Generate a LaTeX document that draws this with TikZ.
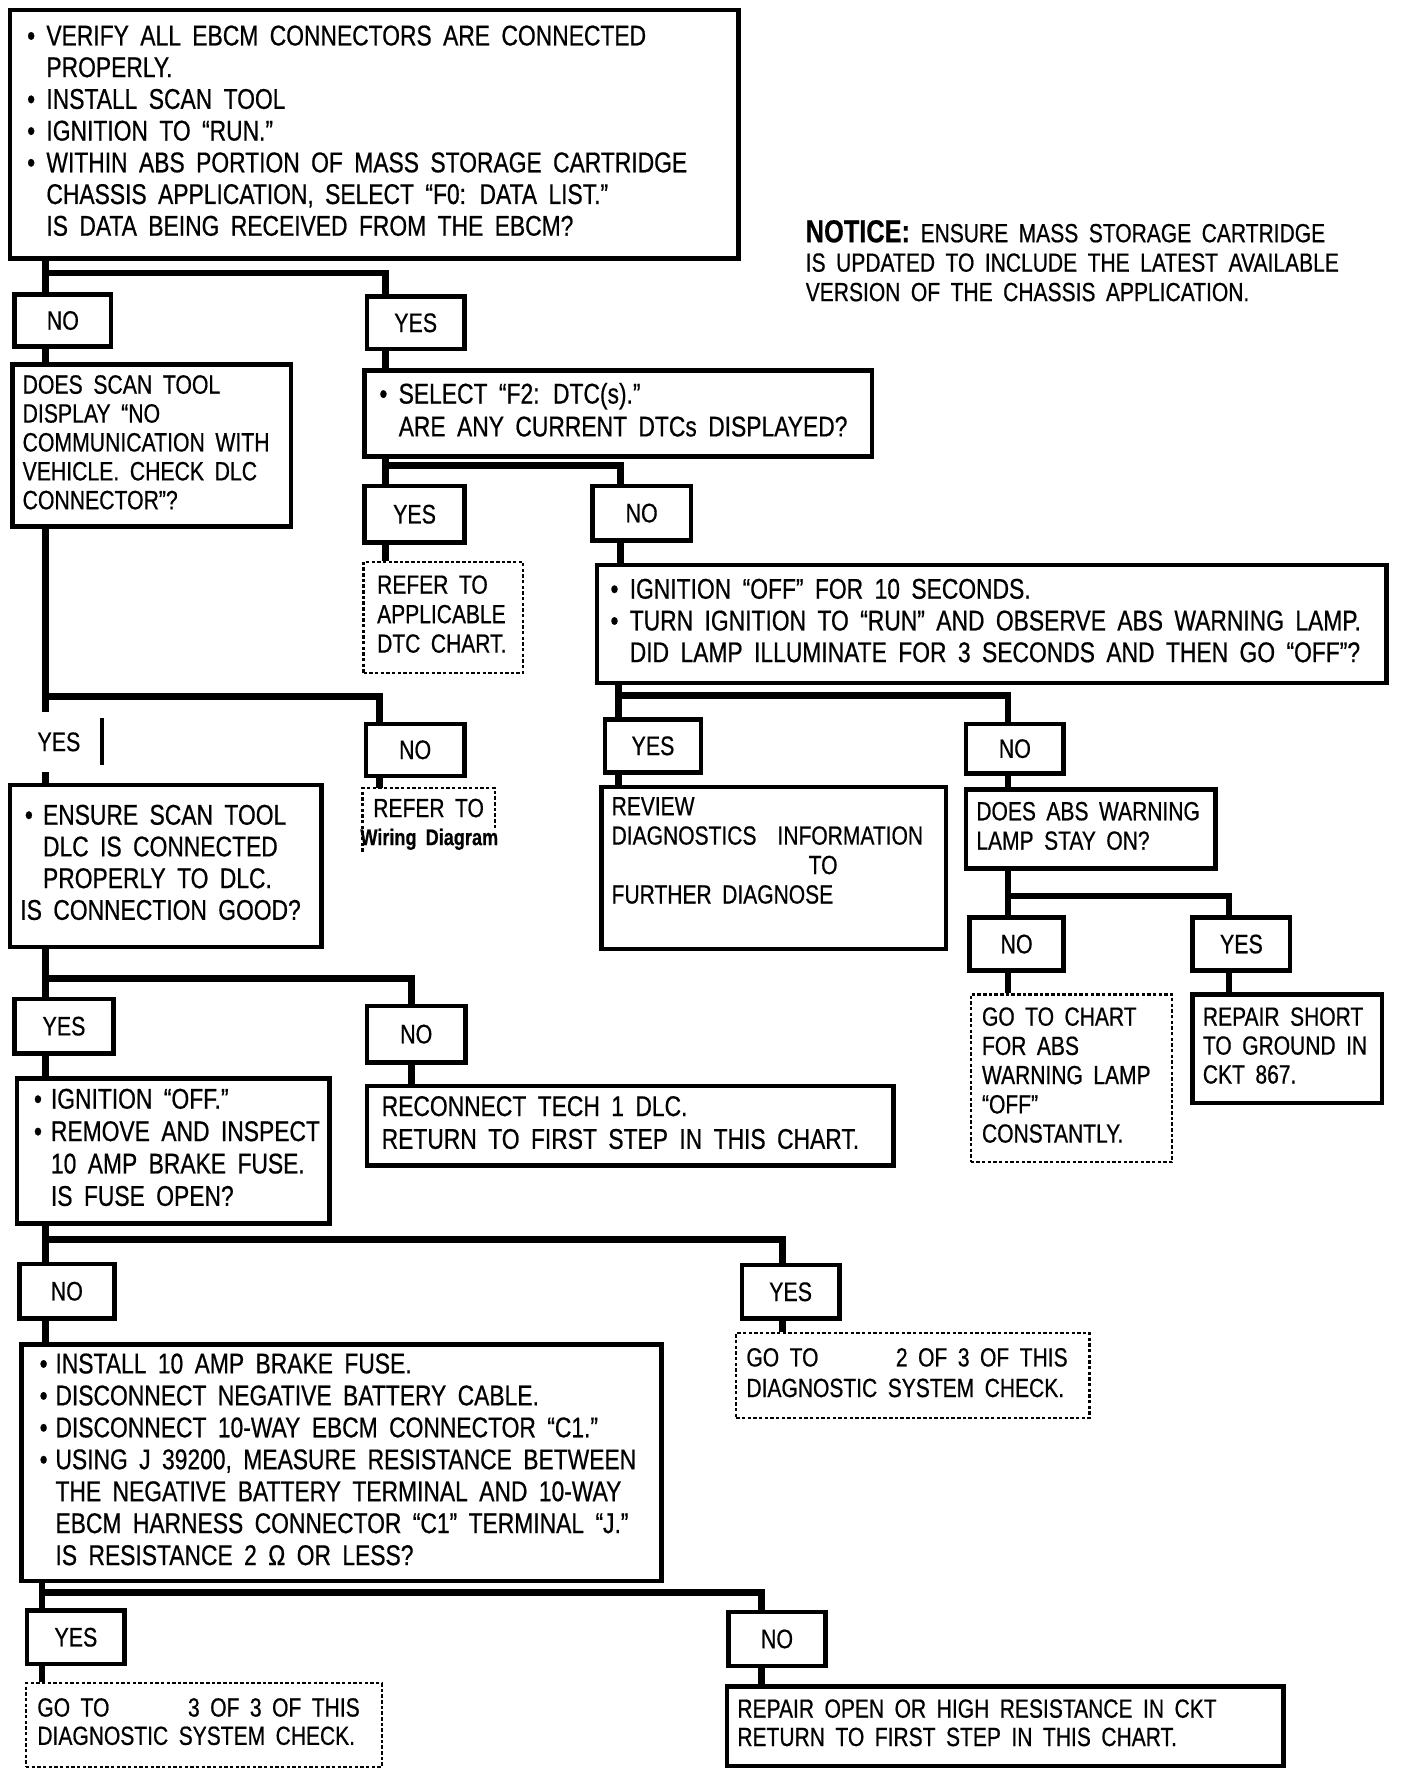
\documentclass[tikz,border=0pt]{standalone}
\usepackage{fontspec}
\setmainfont{Liberation Sans}[FakeStretch=0.8,WordSpace=1.8,FakeBold=0.6]
\newcommand\fs[2]{\fontsize{#1}{#2}\selectfont}
\newcommand\bul[1][8.5pt]{\makebox[#1][l]{\textbullet}}
\newcommand\ind[1][8.5pt]{\hspace*{#1}}
\tikzset{
  box/.style={draw, line width=2pt},
  dbox/.style={draw, line width=1pt, dash pattern=on 1.5pt off 1pt},
  lbl/.style={draw, line width=2pt, inner sep=0pt, font=\fs{11.8}{14}},
  conn/.style={line width=3pt, line join=miter},
}
\newcommand\mybox[8]{%
  \pgfmathsetmacro\bw{(#5-#3)*0.5}%
  \pgfmathsetmacro\bh{(#6-#4)*0.5}%
  \pgfmathsetmacro\pd{#2*0.5}%
  \pgfmathsetmacro\tw{\bw-#2}%
  \node[#7, anchor=north west, inner xsep=\pd pt, inner ysep=0pt, minimum width=\bw pt, minimum height=\bh pt] (#1) at (#3,#4) {\makebox[\tw pt][l]{\begin{tabular}{@{}l@{}}#8\end{tabular}}};}
\newcommand\lab[6]{%
  \pgfmathsetmacro\bw{(#4-#2)*0.5}%
  \pgfmathsetmacro\bh{(#5-#3)*0.5}%
  \node[lbl, anchor=north west, minimum width=\bw pt, minimum height=\bh pt] (#1) at (#2,#3) {#6};}
\begin{document}
\begin{tikzpicture}[x=0.5pt,y=-0.5pt]
\useasboundingbox (0,0) rectangle (1243,1568);

% ---------- boxes ----------
\mybox{b1}{15}{7}{7}{650}{226}{box,font=\fs{12.6}{14}}{%
\bul VERIFY ALL EBCM CONNECTORS ARE CONNECTED\\
\ind PROPERLY.\\
\bul INSTALL SCAN TOOL\\
\bul IGNITION TO “RUN.”\\
\bul WITHIN ABS PORTION OF MASS STORAGE CARTRIDGE\\
\ind CHASSIS APPLICATION, SELECT “F0: DATA LIST.”\\
\ind IS DATA BEING RECEIVED FROM THE EBCM?}

\node[anchor=west, inner sep=0pt, font=\fs{11.6}{13}] (notice) at (711,234)
  {\begin{tabular}{@{}l@{}}{\bfseries\fs{14}{13}NOTICE:} ENSURE MASS STORAGE CARTRIDGE\\
   IS UPDATED TO INCLUDE THE LATEST AVAILABLE\\
   VERSION OF THE CHASSIS APPLICATION.\end{tabular}};

\lab{no1}{11}{258}{96}{304}{NO}
\lab{yes1}{322}{260}{408}{306}{YES}

\mybox{scan}{9}{9}{320}{255}{463}{box,font=\fs{11.7}{12.75}}{%
DOES SCAN TOOL\\DISPLAY “NO\\COMMUNICATION WITH\\VEHICLE. CHECK DLC\\CONNECTOR”?}

\mybox{sel}{13}{320}{325}{768}{401}{box,font=\fs{12.6}{14.5}}{%
\bul SELECT “F2: DTC(s).”\\
\ind ARE ANY CURRENT DTCs DISPLAYED?}

\lab{yes2}{320}{427}{408}{477}{YES}
\lab{no2}{521}{427}{608}{475}{NO}

\mybox{ref1}{12}{320}{495}{461}{593}{dbox,font=\fs{11.6}{13}}{REFER TO\\APPLICABLE\\DTC CHART.}

\mybox{ign}{12}{525}{497}{1222}{601}{box,font=\fs{12.6}{14}}{%
\bul IGNITION “OFF” FOR 10 SECONDS.\\
\bul TURN IGNITION TO “RUN” AND OBSERVE ABS WARNING LAMP.\\
\ind DID LAMP ILLUMINATE FOR 3 SECONDS AND THEN GO “OFF”?}

\lab{yes3}{532}{633}{617}{680}{YES}
\lab{no3}{851}{637}{937}{681}{NO}

\mybox{rev}{9}{529}{693}{833}{836}{box,font=\fs{11.6}{13}}{%
REVIEW\\DIAGNOSTICS\ \ INFORMATION\\\hspace*{87pt}TO\\FURTHER DIAGNOSE\\ \mbox{}}

\mybox{abs}{9}{851}{695}{1071}{765}{box,font=\fs{11.6}{13}}{DOES ABS WARNING\\LAMP STAY ON?}

\lab{no4}{854}{808}{937}{855}{NO}
\lab{yes4}{1051}{808}{1137}{855}{YES}

\mybox{chart}{10}{856}{877}{1034}{1025}{dbox,font=\fs{11.6}{12.9}}{%
GO TO CHART\\FOR ABS\\WARNING LAMP\\“OFF”\\CONSTANTLY.}

\mybox{short}{9}{1051}{876}{1218}{972}{box,font=\fs{11.6}{12.75}}{%
REPAIR SHORT\\TO GROUND IN\\CKT 867.}

% YES (partial) and NO -> wiring
\node[font=\fs{11.8}{14}, inner sep=0pt, minimum height=26pt, minimum width=30pt] (yesB) at (52,655) {YES};
\draw[line width=1.5pt] (90,634) -- (90,675);
\lab{nw}{321}{637}{408}{683}{NO}
\node[anchor=north west, inner sep=0pt, minimum width=58pt, minimum height=17pt, font=\fs{11.6}{13}] (ref2) at (320,696) {REFER TO};
\draw[line width=1pt, dash pattern=on 1.5pt off 1pt] (320,752) -- (ref2.north west) -- (ref2.north east) -- (ref2.south east);
\node[font=\bfseries\fs{10}{12}, inner sep=0pt] (wd) at (379,741) {Wiring Diagram};

\mybox{ens}{9}{7}{691}{282}{834}{box,font=\fs{12.6}{14}}{%
\hspace*{2pt}\bul[8pt]ENSURE SCAN TOOL\\
\ind[10pt]DLC IS CONNECTED\\
\ind[10pt]PROPERLY TO DLC.\\
IS CONNECTION GOOD?}

\lab{yes5}{11}{880}{98}{928}{YES}
\lab{no5}{322}{886}{409}{936}{NO}

\mybox{ign2}{15}{13}{950}{289}{1078}{box,font=\fs{12.6}{14.3}}{%
\bul[7.5pt]IGNITION “OFF.”\\
\bul[7.5pt]REMOVE AND INSPECT\\
\ind[7.5pt]10 AMP BRAKE FUSE.\\
\ind[7.5pt]IS FUSE OPEN?}

\mybox{recon}{13}{322}{957}{787}{1027}{box,font=\fs{12.6}{14.5}}{%
RECONNECT TECH 1 DLC.\\RETURN TO FIRST STEP IN THIS CHART.}

\lab{no6}{15}{1114}{99}{1162}{NO}
\lab{yes6}{653}{1115}{739}{1162}{YES}

\mybox{inst}{16}{17}{1185}{582}{1394}{box,font=\fs{12.6}{14.1}}{%
\bul[7pt]INSTALL 10 AMP BRAKE FUSE.\\
\bul[7pt]DISCONNECT NEGATIVE BATTERY CABLE.\\
\bul[7pt]DISCONNECT 10-WAY EBCM CONNECTOR “C1.”\\
\bul[7pt]USING J 39200, MEASURE RESISTANCE BETWEEN\\
\ind[7pt]THE NEGATIVE BATTERY TERMINAL AND 10-WAY\\
\ind[7pt]EBCM HARNESS CONNECTOR “C1” TERMINAL “J.”\\
\ind[7pt]IS RESISTANCE 2 Ω OR LESS?}

\mybox{go2}{9}{649}{1176}{961}{1251}{dbox,font=\fs{11.6}{13.5}}{%
\makebox[66pt][l]{GO TO}2 OF 3 OF THIS\\DIAGNOSTIC SYSTEM CHECK.}

\lab{yes7}{22}{1420}{108}{1467}{YES}
\lab{no7}{641}{1421}{727}{1469}{NO}

\mybox{go3}{10}{22}{1485}{336}{1559}{dbox,font=\fs{11.6}{12.5}}{%
\makebox[66.5pt][l]{GO TO}3 OF 3 OF THIS\\DIAGNOSTIC SYSTEM CHECK.}

\mybox{ropen}{9}{640}{1487}{1131}{1557}{box,font=\fs{11.6}{12.5}}{%
REPAIR OPEN OR HIGH RESISTANCE IN CKT\\RETURN TO FIRST STEP IN THIS CHART.}

% ---------- junctions ----------
\coordinate (j1) at (40,241);   \coordinate (j1r) at (340,241);
\coordinate (j2) at (340,411);  \coordinate (j2r) at (548,411);
\coordinate (j3) at (546,614);  \coordinate (j3r) at (890,614);
\coordinate (j4) at (890,791);  \coordinate (j4r) at (1085,791);
\coordinate (j5) at (40,615);   \coordinate (j5r) at (335,615);
\coordinate (j6) at (40,864);   \coordinate (j6r) at (363,864);
\coordinate (j7) at (40,1094);  \coordinate (j7r) at (691,1094);
\coordinate (j8) at (37,1406);  \coordinate (j8r) at (672,1406);

% ---------- connectors ----------
\draw[conn] (b1.south -| j1) -- (no1.north -| j1);
\draw[conn] (j1) -- (j1r) -- (yes1.north -| j1r);
\draw[conn] (no1.south -| j1) -- (scan.north -| j1);
\draw[conn] (yes1.south -| j1r) -- (sel.north -| j1r);

\draw[conn] (sel.south -| j2) -- (yes2.north -| j2);
\draw[conn] (j2) -- (j2r) -- (no2.north -| j2r);
\draw[conn] (yes2.south -| j2) -- (ref1.north -| j2);
\draw[conn] (no2.south -| j2r) -- (ign.north -| j2r);

\draw[conn] (ign.south -| j3) -- (yes3.north -| j3);
\draw[conn] (j3) -- (j3r) -- (no3.north -| j3r);
\draw[conn] (yes3.south -| j3) -- (rev.north -| j3);
\draw[conn] (no3.south -| j3r) -- (abs.north -| j3r);

\draw[conn] (abs.south -| j4) -- (no4.north -| j4);
\draw[conn] (j4) -- (j4r) -- (yes4.north -| j4r);
\draw[conn] (no4.south -| j4) -- (chart.north -| j4);
\draw[conn] (yes4.south -| j4r) -- (short.north -| j4r);

\draw[conn] (scan.south -| j5) -- (yesB.north -| j5);
\draw[conn] (j5) -- (j5r) -- (nw.north -| j5r);
\draw[conn] (yesB.south -| j5) -- (ens.north -| j5);
\draw[conn] (nw.south -| j5r) -- (ref2.north -| j5r);

\draw[conn] (ens.south -| j6) -- (yes5.north -| j6);
\draw[conn] (j6) -- (j6r) -- (no5.north -| j6r);
\draw[conn] (yes5.south -| j6) -- (ign2.north -| j6);
\draw[conn] (no5.south -| j6r) -- (recon.north -| j6r);

\draw[conn] (ign2.south -| j7) -- (no6.north -| j7);
\draw[conn] (j7) -- (j7r) -- (yes6.north -| j7r);
\draw[conn] (no6.south -| j7) -- (inst.north -| j7);
\draw[conn] (yes6.south -| j7r) -- (go2.north -| j7r);

\draw[conn] (inst.south -| j8) -- (yes7.north -| j8);
\draw[conn] (j8) -- (j8r) -- (no7.north -| j8r);
\draw[conn] (yes7.south -| j8) -- (go3.north -| j8);
\draw[conn] (no7.south -| j8r) -- (ropen.north -| j8r);
\end{tikzpicture}
\end{document}
